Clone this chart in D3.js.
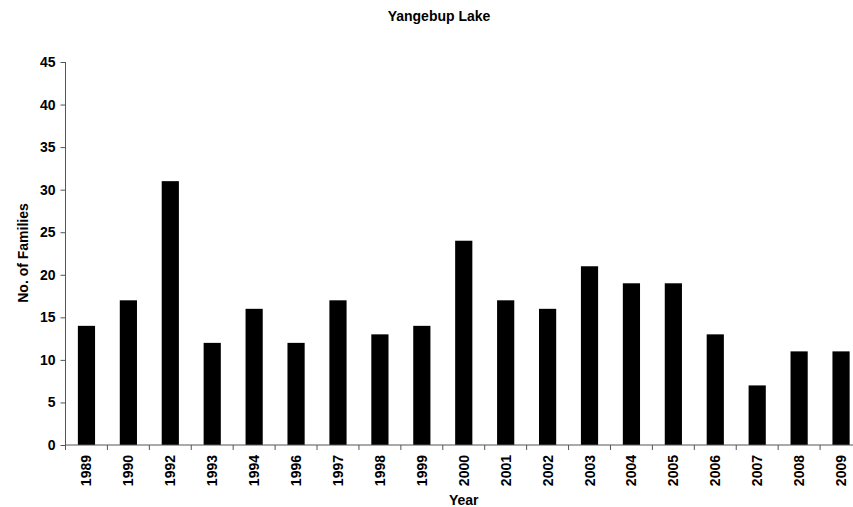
<!DOCTYPE html>
<html>
<head>
<meta charset="utf-8">
<script src="https://cdn.jsdelivr.net/npm/d3@7"></script>
<style>
  body { margin: 0; background: #fff; }
  svg { display: block; font-family: Arial, "Liberation Sans", sans-serif; }
</style>
</head>
<body>
<svg id="chart" width="853" height="507"></svg>
<script>
// data
const years = ["1989", "1990", "1992", "1993", "1994", "1996", "1997", "1998", "1999", "2000",
               "2001", "2002", "2003", "2004", "2005", "2006", "2007", "2008", "2009"];
const families = [14, 17, 31, 12, 16, 12, 17, 13, 14, 24, 17, 16, 21, 19, 19, 13, 7, 11, 11];
const yTicks = [0, 5, 10, 15, 20, 25, 30, 35, 40, 45];

const svg = d3.select("#chart");

// plot area (runs past the right edge like the original)
const plotLeft = 65.5, plotRight = 862, plotTop = 62, plotBottom = 445;

const x = d3.scaleBand()
    .domain(years)
    .range([plotLeft, plotRight])
    .paddingInner(0.59)
    .paddingOuter(0.295);

const y = d3.scaleLinear()
    .domain([0, 45])
    .range([plotBottom, plotTop]);

const axisColor = "#555";

// bars
svg.append("g")
    .selectAll("rect")
    .data(years.map((yr, i) => ({ yr, v: families[i] })))
    .enter()
    .append("rect")
    .attr("x", d => x(d.yr))
    .attr("width", x.bandwidth())
    .attr("y", d => y(d.v))
    .attr("height", d => y(0) - y(d.v))
    .attr("fill", "#000");

// y axis
const yAxis = svg.append("g")
    .attr("transform", `translate(${plotLeft},0)`)
    .call(d3.axisLeft(y).tickValues(yTicks).tickSize(5).tickPadding(5));
yAxis.select(".domain").attr("stroke", axisColor).attr("d", `M0,${plotTop}V${plotBottom}`);
yAxis.selectAll(".tick line").attr("stroke", axisColor);
yAxis.selectAll(".tick text")
    .attr("font-size", "14px")
    .attr("font-weight", "bold")
    .attr("font-family", "Arial, 'Liberation Sans', sans-serif")
    .attr("fill", "#000");

// x axis: ticks sit between categories
const xAxis = svg.append("g")
    .attr("transform", `translate(0,${plotBottom})`);
xAxis.append("line")
    .attr("x1", plotLeft).attr("x2", plotRight)
    .attr("stroke", axisColor);
const step = x.step();
xAxis.selectAll(".xtick")
    .data(d3.range(years.length + 1))
    .enter()
    .append("line")
    .attr("x1", i => plotLeft + i * step)
    .attr("x2", i => plotLeft + i * step)
    .attr("y1", 0)
    .attr("y2", 5)
    .attr("stroke", axisColor);
xAxis.selectAll(".xlabel")
    .data(years)
    .enter()
    .append("text")
    .attr("transform", d => `translate(${x(d) + x.bandwidth() / 2 + 5},10) rotate(-90)`)
    .attr("text-anchor", "end")
    .attr("font-size", "14px")
    .attr("font-weight", "bold")
    .text(d => d);

// titles
svg.append("text")
    .attr("x", 439)
    .attr("y", 21)
    .attr("text-anchor", "middle")
    .attr("font-size", "14px")
    .attr("font-weight", "bold")
    .text("Yangebup Lake");

svg.append("text")
    .attr("x", (plotLeft + plotRight) / 2)
    .attr("y", 505)
    .attr("text-anchor", "middle")
    .attr("font-size", "14px")
    .attr("font-weight", "bold")
    .text("Year");

svg.append("text")
    .attr("transform", `translate(28,253) rotate(-90)`)
    .attr("text-anchor", "middle")
    .attr("font-size", "14px")
    .attr("font-weight", "bold")
    .text("No. of Families");
</script>
</body>
</html>
